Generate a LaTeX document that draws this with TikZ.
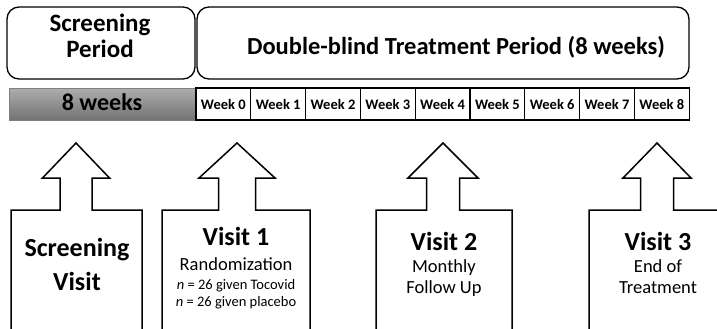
\documentclass[tikz,border=0pt]{standalone}
\usepackage{fontspec}
\setmainfont{Carlito}
\usetikzlibrary{positioning}

\begin{document}
\begin{tikzpicture}[x=1pt, y=-1pt, line width=1.5pt,
  period/.style={draw, rounded corners=12pt, line width=1.3pt, inner sep=0pt},
  weekbox/.style={draw, line width=1.3pt, outer sep=0pt, minimum width=54.8pt, minimum height=32pt, inner sep=0pt, font=\bfseries\fontsize{14.5}{16}\selectfont},
  title/.style={font=\bfseries\fontsize{25}{25}\selectfont, align=center, anchor=base},
  visitbig/.style={font=\bfseries\fontsize{26}{34}\selectfont, align=center, anchor=base},
  visitsub/.style={font=\fontsize{18.5}{21}\selectfont, anchor=base},
  visitsmall/.style={font=\fontsize{14.5}{17}\selectfont, anchor=base}]
\useasboundingbox (0,0) rectangle (717,329);
\clip (0,0) rectangle (717,329);

% Period boxes
\node[period, minimum width=188pt, minimum height=72pt] (scrbox) at (101,43) {};
\node[title] (scrtext) at (100,32) {Screening};
\node[title] (scrtext2) at (100,57) {Period};
\node[period, minimum width=492pt, minimum height=72pt] (dbtbox) at (443,43) {};
\node[title, font=\bfseries\fontsize{24.5}{25}\selectfont] (dbttext) at (456,55) {Double-blind Treatment Period (8 weeks)};

% Week bar
\node[draw=black!50, line width=0.8pt, top color=black!32, bottom color=black!55, minimum width=186pt, minimum height=32pt, inner sep=0pt] (scrbar) at (102,104) {};
\node[title, font=\bfseries\fontsize{24}{25}\selectfont] (scrweeks) at (102,110) {8 weeks};
\node[weekbox] (week0) at (223.4,104) {Week 0};
\foreach \i [remember=\i as \prev (initially 0)] in {1,...,8}
  \node[weekbox, right=0pt of week\prev] (week\i) {Week \i};

% Visit arrows
\foreach \cx/\hw/\sw/\bl/\br in {76/33.5/16/11/142, 237/38/18.5/162/310, 443/35/16.5/376/512, 657/34/16.5/589/740}
  \draw (\bl,340) -- (\bl,210) -- ({\cx-\sw},210) -- ({\cx-\sw},178) -- ({\cx-\hw},178) -- (\cx,143)
    -- ({\cx+\hw},178) -- ({\cx+\sw},178) -- ({\cx+\sw},210) -- (\br,210) -- (\br,340);

% Visit texts
\node[visitbig] (scrvisit) at (77,256) {Screening};
\node[visitbig] (scrvisit2) at (77,290) {Visit};

\node[visitbig] (visit1) at (236,245) {Visit 1};
\node[visitsub] (rand) at (236,270) {Randomization};
\node[visitsmall] (toco) at (236,289) {\textit{n} = 26 given Tocovid};
\node[visitsmall] (plac) at (236,306) {\textit{n} = 26 given placebo};

\node[visitbig] (visit2) at (444,250) {Visit 2};
\node[visitsub] (month) at (444,272) {Monthly};
\node[visitsub] (follow) at (444,293) {Follow Up};

\node[visitbig] (visit3) at (658,250) {Visit 3};
\node[visitsub] (endof) at (658,272) {End of};
\node[visitsub] (treat) at (658,293) {Treatment};
\end{tikzpicture}
\end{document}
